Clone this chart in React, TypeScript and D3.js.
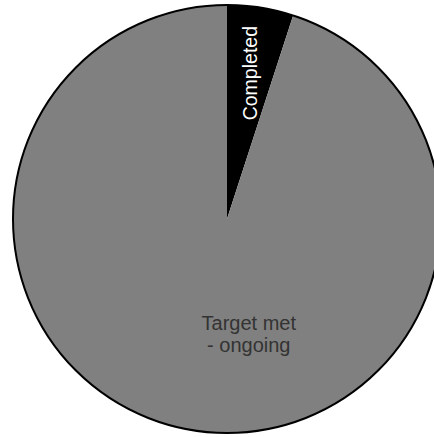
import React from "react";
import * as d3 from "d3";

const categories = ["Completed", "Target met - ongoing"];
const values = [5, 95];
const colors = ["#000000", "#808080"];

const W = 434;
const H = 437;
const cx = 227;
const cy = 219;
const R = 214;

export default function App() {
  const pie = d3.pie<number>().sort(null).value((d) => d);
  const arcs = pie(values);
  const arc = d3.arc<d3.PieArcDatum<number>>().innerRadius(0).outerRadius(R);

  const a0 = arcs[0];
  const midA = (a0.startAngle + a0.endAngle) / 2;
  const lr = R * 0.69;
  const lx = Math.sin(midA) * lr;
  const ly = -Math.cos(midA) * lr;

  const a1 = arcs[1];
  const mid1 = (a1.startAngle + a1.endAngle) / 2 - 0.35;
  const lr1 = R * 0.53;
  const tx = Math.sin(mid1) * lr1;
  const ty = -Math.cos(mid1) * lr1;

  return (
    <svg
      width={W}
      height={H}
      style={{ position: "absolute", left: 0, top: 0 }}
      fontFamily="Liberation Sans, Arial, sans-serif"
    >
      <g transform={`translate(${cx},${cy})`}>
        {arcs.map((d, i) => (
          <path key={categories[i]} d={arc(d) || ""} fill={colors[i]} stroke="none" />
        ))}
        <circle r={R} fill="none" stroke="#000" strokeWidth={2} />
        <text
          transform={`translate(${lx},${ly}) rotate(-90)`}
          textAnchor="middle"
          dy="0.35em"
          fill="#fff"
          fontSize={19.5}
        >
          {categories[0]}
        </text>
        <text textAnchor="middle" fill="#333" fontSize={20}>
          <tspan x={tx} y={ty}>Target met</tspan>
          <tspan x={tx} y={ty + 22}>- ongoing</tspan>
        </text>
      </g>
    </svg>
  );
}
